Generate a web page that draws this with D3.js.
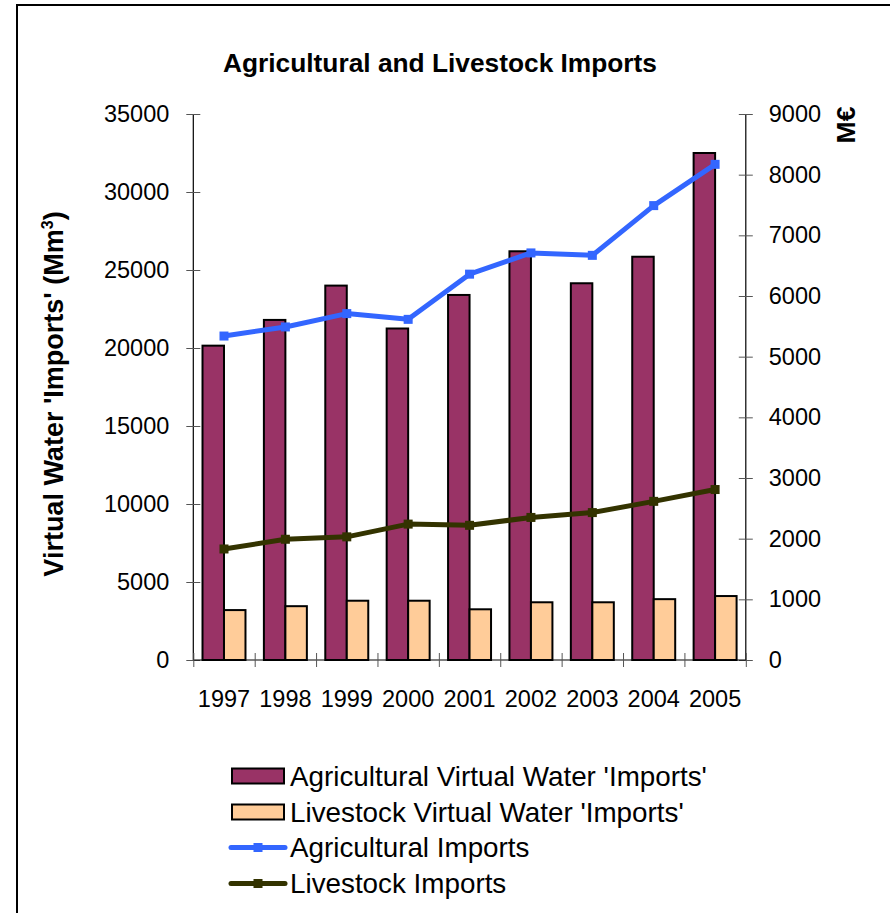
<!DOCTYPE html>
<html>
<head>
<meta charset="utf-8">
<script src="https://cdn.jsdelivr.net/npm/d3@7"></script>
<style>
  html, body { margin: 0; padding: 0; background: #fff; }
  svg { display: block; font-family: Arial, "Liberation Sans", sans-serif; }
</style>
</head>
<body>
<svg id="chart" width="890" height="913"></svg>
<script>
const years = ["1997","1998","1999","2000","2001","2002","2003","2004","2005"];
const agriWater = [20150, 21800, 24000, 21250, 23400, 26200, 24150, 25850, 32500];
const liveWater = [3200, 3450, 3800, 3800, 3250, 3700, 3700, 3900, 4100];
const agriImports = [5340, 5490, 5710, 5615, 6360, 6710, 6670, 7490, 8170];
const liveImports = [1830, 1990, 2030, 2240, 2220, 2350, 2430, 2615, 2810];
const leftTicks = [0, 5000, 10000, 15000, 20000, 25000, 30000, 35000];
const rightTicks = [0, 1000, 2000, 3000, 4000, 5000, 6000, 7000, 8000, 9000];
const seriesNames = ["Agricultural Virtual Water 'Imports'", "Livestock Virtual Water 'Imports'", "Agricultural Imports", "Livestock Imports"];
const colors = ["#993366", "#FFCC99", "#3366FF", "#333300"];

const svg = d3.select("#chart");
const L = 193.3, R = 745.8, T = 114, B = 660;

// outer frame
svg.append("rect").attr("x", 17).attr("y", 5).attr("width", 900).attr("height", 920)
  .attr("fill", "none").attr("stroke", "#000").attr("stroke-width", 2);

const x = d3.scaleBand().domain(years).range([L, R]).paddingInner(0.3).paddingOuter(0.15);
const xi = d3.scaleLinear().domain([0, years.length]).range([L, R]);
const xSub = d3.scaleBand().domain(["agri", "live"]).range([0, x.bandwidth()]);
const yL = d3.scaleLinear().domain([0, 35000]).range([B, T]);
const yR = d3.scaleLinear().domain([0, 9000]).range([B, T]);

// title
svg.append("text").attr("x", 440).attr("y", 72).attr("text-anchor", "middle")
  .attr("font-size", 26.3).attr("font-weight", "bold").text("Agricultural and Livestock Imports");

// bars
const g = svg.append("g");
years.forEach((yr, i) => {
  g.append("rect").attr("x", x(yr) + xSub("agri")).attr("y", yL(agriWater[i]))
    .attr("width", xSub.bandwidth()).attr("height", B - yL(agriWater[i]))
    .attr("fill", colors[0]).attr("stroke", "#000").attr("stroke-width", 2);
  g.append("rect").attr("x", x(yr) + xSub("live")).attr("y", yL(liveWater[i]))
    .attr("width", xSub.bandwidth()).attr("height", B - yL(liveWater[i]))
    .attr("fill", colors[1]).attr("stroke", "#000").attr("stroke-width", 2);
});

// axes
const axL = svg.append("g").attr("transform", `translate(${L},0)`)
  .call(d3.axisLeft(yL).tickValues(leftTicks).tickFormat(d3.format("d")).tickSize(7).tickPadding(17));
axL.selectAll(".tick line").attr("x1", 7).attr("stroke", "#555");
const axR = svg.append("g").attr("transform", `translate(${R},0)`)
  .call(d3.axisRight(yR).tickValues(rightTicks).tickFormat(d3.format("d")).tickSize(7).tickPadding(16));
axR.selectAll(".tick line").attr("x1", -7).attr("stroke", "#555");
const axB = svg.append("g").attr("transform", `translate(0,${B})`)
  .call(d3.axisBottom(xi).tickValues(d3.range(0, years.length + 1)).tickFormat("").tickSize(7));
axB.selectAll(".tick line").attr("y1", -7).attr("stroke", "#555");
const axLab = svg.append("g").attr("transform", `translate(0,${B})`)
  .call(d3.axisBottom(x).tickSize(0).tickPadding(30));
axLab.select(".domain").remove();

[axL, axR, axB, axLab].forEach(a => {
  a.selectAll("text").attr("font-size", 23.5).attr("font-family", "Arial, 'Liberation Sans', sans-serif").attr("fill", "#000");
  a.select(".domain").attr("stroke", "#000").attr("stroke-width", 1.2);
});
axL.select(".domain").attr("d", `M0,${T}V${B}`);
axR.select(".domain").attr("d", `M0,${T}V${B}`);
axB.select(".domain").attr("d", `M${L},0H${R}`);

// lines
const line = d3.line().x((d, i) => x(years[i]) + x.bandwidth() / 2).y(d => yR(d));
[[agriImports, colors[2]], [liveImports, colors[3]]].forEach(([vals, c]) => {
  svg.append("path").datum(vals).attr("d", line).attr("fill", "none")
    .attr("stroke", c).attr("stroke-width", 5).attr("stroke-linejoin", "round");
  svg.append("g").selectAll("rect").data(vals).join("rect")
    .attr("x", (d, i) => x(years[i]) + x.bandwidth() / 2 - 4.5)
    .attr("y", d => yR(d) - 4.5).attr("width", 9).attr("height", 9).attr("fill", c);
});

// axis titles
svg.append("text").attr("transform", "translate(63,394) rotate(-90)").attr("text-anchor", "middle")
  .attr("font-size", 27).attr("font-weight", "bold")
  .html("Virtual Water 'Imports' (Mm<tspan dy='-10' font-size='16'>3</tspan><tspan dy='10'>)</tspan>");
svg.append("text").attr("transform", "translate(855,125) rotate(-90)").attr("text-anchor", "middle")
  .attr("font-size", 26.5).attr("font-weight", "bold").text("M€");

// legend
const leg = svg.append("g");
const rowY = [776, 812, 847.5, 883.5];
seriesNames.forEach((name, i) => {
  if (i < 2) {
    leg.append("rect").attr("x", 232).attr("y", rowY[i] - 7.5).attr("width", 52).attr("height", 15)
      .attr("fill", colors[i]).attr("stroke", "#000").attr("stroke-width", 2);
  } else {
    leg.append("line").attr("x1", 231).attr("x2", 285).attr("y1", rowY[i]).attr("y2", rowY[i])
      .attr("stroke", colors[i]).attr("stroke-width", 5).attr("stroke-linecap", "round");
    leg.append("rect").attr("x", 253.5).attr("y", rowY[i] - 4.5).attr("width", 9).attr("height", 9).attr("fill", colors[i]);
  }
  leg.append("text").attr("x", 290).attr("y", rowY[i] + 9.5).attr("font-size", 27.8).text(name);
});
</script>
</body>
</html>
